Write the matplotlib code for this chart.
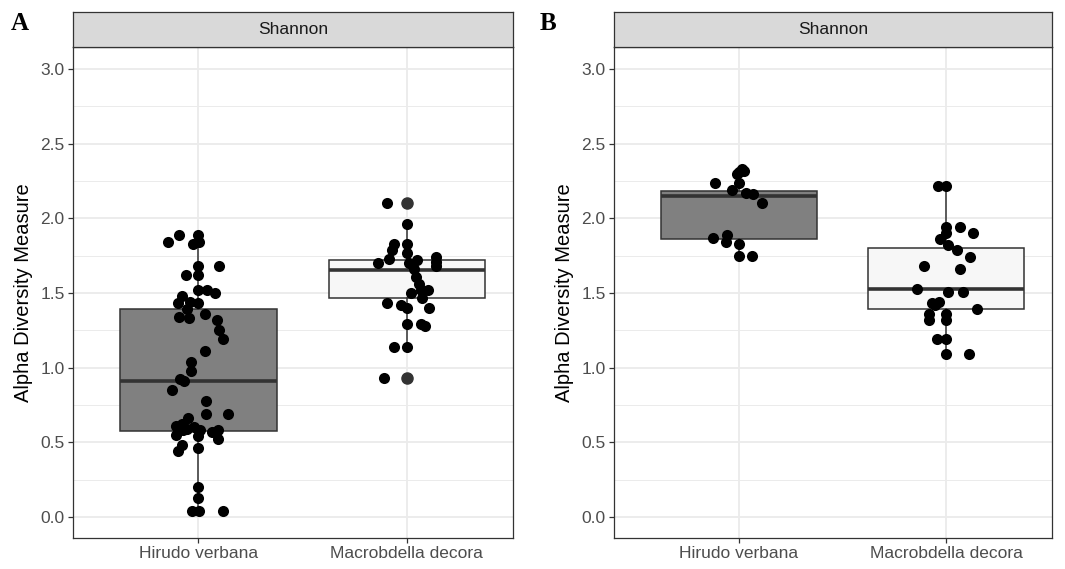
import numpy as np
import matplotlib.pyplot as plt

# 데이터
groups = ['Hirudo verbana', 'Macrobdella decora']

# A 패널: 점 값과 지터(x 오프셋)
a_hir_y = [1.84, 1.886, 1.89, 1.83, 1.84, 1.68, 1.68, 1.62, 1.62, 1.52, 1.52, 1.50, 1.48,
           1.44, 1.43, 1.43, 1.39, 1.34, 1.33, 1.36, 1.32, 1.25, 1.19, 1.11, 1.04, 0.975,
           0.926, 0.908, 0.85, 0.78, 0.69, 0.69, 0.66, 0.61, 0.62, 0.60, 0.59, 0.55, 0.54,
           0.57, 0.58, 0.52, 0.58, 0.58, 0.48, 0.44, 0.46, 0.20, 0.13, 0.04, 0.04, 0.04]
a_hir_dx = [-0.146, -0.093, 0.0, -0.026, 0.003, 0.10, 0.0, -0.06, 0.0, 0.0, 0.04, 0.08, -0.08,
            -0.04, -0.10, 0.0, -0.055, -0.093, -0.045, 0.03, 0.09, 0.10, 0.12, 0.03, -0.035, -0.035,
            -0.09, -0.07, -0.127, 0.037, 0.037, 0.143, -0.05, -0.11, -0.08, -0.02, -0.055, -0.11, 0.0,
            0.065, 0.095, 0.095, -0.075, 0.008, -0.08, -0.10, 0.0, 0.0, 0.0, -0.03, 0.003, 0.12]
a_mac_y = [2.10, 1.96, 1.83, 1.83, 1.79, 1.77, 1.73, 1.70, 1.72, 1.74, 1.71, 1.68, 1.70, 1.66,
           1.61, 1.56, 1.52, 1.52, 1.50, 1.47, 1.43, 1.42, 1.40, 1.40, 1.29, 1.29, 1.28, 1.14,
           1.14, 0.93]
a_mac_dx = [-0.093, 0.003, -0.063, 0.0, -0.07, 0.0, -0.087, -0.14, 0.05, 0.14, 0.14, 0.14, 0.01,
            0.034, 0.043, 0.058, 0.10, 0.068, 0.02, 0.075, -0.093, -0.03, 0.0, 0.105, 0.0, 0.068,
            0.087, -0.063, 0.0, -0.11]

# B 패널
b_hir_y = [2.31, 2.33, 2.30, 2.32, 2.24, 2.24, 2.19, 2.17, 2.16, 2.10, 1.87, 1.89, 1.84, 1.83,
           1.75, 1.75]
b_hir_dx = [0.0, 0.015, -0.01, 0.024, -0.116, 0.0, -0.034, 0.036, 0.07, 0.11, -0.125, -0.058,
            -0.063, 0.0, 0.0, 0.063]
b_mac_y = [2.22, 2.22, 1.94, 1.94, 1.90, 1.90, 1.86, 1.82, 1.79, 1.74, 1.68, 1.66, 1.53, 1.51,
           1.51, 1.44, 1.43, 1.42, 1.39, 1.36, 1.36, 1.32, 1.32, 1.19, 1.19, 1.09, 1.09]
b_mac_dx = [-0.04, 0.0, 0.0, 0.068, 0.0, 0.13, -0.028, 0.01, 0.052, 0.117, -0.108, 0.068, -0.14,
            0.01, 0.08, -0.036, -0.07, -0.052, 0.146, -0.084, 0.0, -0.084, 0.0, -0.046, 0.0, 0.0,
            0.11]

# 박스 통계 (q1, med, q3, 수염 아래, 수염 위, 이상치)
a_box = [(0.573, 0.908, 1.39, 0.04, 1.886, []),
         (1.468, 1.656, 1.718, 1.14, 1.96, [2.10, 0.93])]
b_box = [(1.864, 2.15, 2.185, 1.75, 2.33, []),
         (1.39, 1.528, 1.80, 1.09, 2.22, [])]

box_fill = ['#808080', '#F7F7F7']
edge = '#333333'

W, H = 1065, 569
fig = plt.figure(figsize=(W / 100, H / 100), dpi=100)
plt.rcParams['font.family'] = ['Liberation Sans', 'DejaVu Sans']


def px_axes(x0, y0, x1, y1):
    # 픽셀 좌표(위쪽 기준)로 축 만들기
    return fig.add_axes([x0 / W, 1 - y1 / H, (x1 - x0) / W, (y1 - y0) / H])


def draw_panel(x0, x1, boxes, points, letter, letter_x):
    ax = px_axes(x0, 47, x1, 538)
    strip = px_axes(x0, 12, x1, 47)

    stats = []
    for q1, med, q3, lo, hi, fl in boxes:
        stats.append(dict(q1=q1, med=med, q3=q3, whislo=lo, whishi=hi, fliers=fl))
    bp = ax.bxp(stats, positions=[1, 2], widths=0.75, patch_artist=True, showcaps=False,
                boxprops=dict(edgecolor=edge, linewidth=1.1),
                medianprops=dict(color=edge, linewidth=2.6, solid_capstyle='butt'),
                whiskerprops=dict(color=edge, linewidth=1.1),
                flierprops=dict(marker='o', markerfacecolor=edge, markeredgecolor=edge,
                                markersize=8),
                zorder=2)
    for patch, c in zip(bp['boxes'], box_fill):
        patch.set_facecolor(c)

    for i, (ys, dxs) in enumerate(points):
        xs = np.array(dxs) + i + 1
        ax.scatter(xs, ys, s=64, color='black', linewidths=0, zorder=4)

    ax.set_xlim(0.398, 2.51)
    ax.set_ylim(-0.141, 3.148)
    ax.set_yticks([0, 0.5, 1.0, 1.5, 2.0, 2.5, 3.0])
    ax.set_yticklabels(['0.0', '0.5', '1.0', '1.5', '2.0', '2.5', '3.0'])
    ax.set_yticks(np.arange(0.25, 3.0, 0.5), minor=True)
    ax.set_xticks([1, 2])
    ax.set_xticklabels(groups)
    ax.grid(True, which='major', color='#EBEBEB', linewidth=1.3, zorder=0)
    ax.grid(True, which='minor', axis='y', color='#EBEBEB', linewidth=0.7, zorder=0)
    ax.set_axisbelow(True)
    ax.tick_params(which='major', length=3.5, width=0.9, color=edge, labelcolor='#4D4D4D',
                   labelsize=12.5, pad=2.5)
    ax.tick_params(which='minor', length=0)
    for sp in ax.spines.values():
        sp.set_color(edge)
        sp.set_linewidth(0.9)
    ax.set_ylabel('Alpha Diversity Measure', fontsize=14.5, color='black', labelpad=5)

    strip.set_facecolor('#D9D9D9')
    strip.set_xticks([])
    strip.set_yticks([])
    for sp in strip.spines.values():
        sp.set_color(edge)
        sp.set_linewidth(0.9)
    strip.text(0.5, 0.5, 'Shannon', ha='center', va='center', fontsize=12.5, color='#1A1A1A',
               transform=strip.transAxes)

    fig.text(letter_x / W, 1 - 23 / H, letter, fontsize=18, fontweight='bold',
             family='Liberation Serif', ha='center', va='center')
    return ax


draw_panel(73, 513, a_box, [(a_hir_y, a_hir_dx), (a_mac_y, a_mac_dx)], 'A', 20)
draw_panel(614, 1052, b_box, [(b_hir_y, b_hir_dx), (b_mac_y, b_mac_dx)], 'B', 548)

fig.savefig('out.png', dpi=100)
